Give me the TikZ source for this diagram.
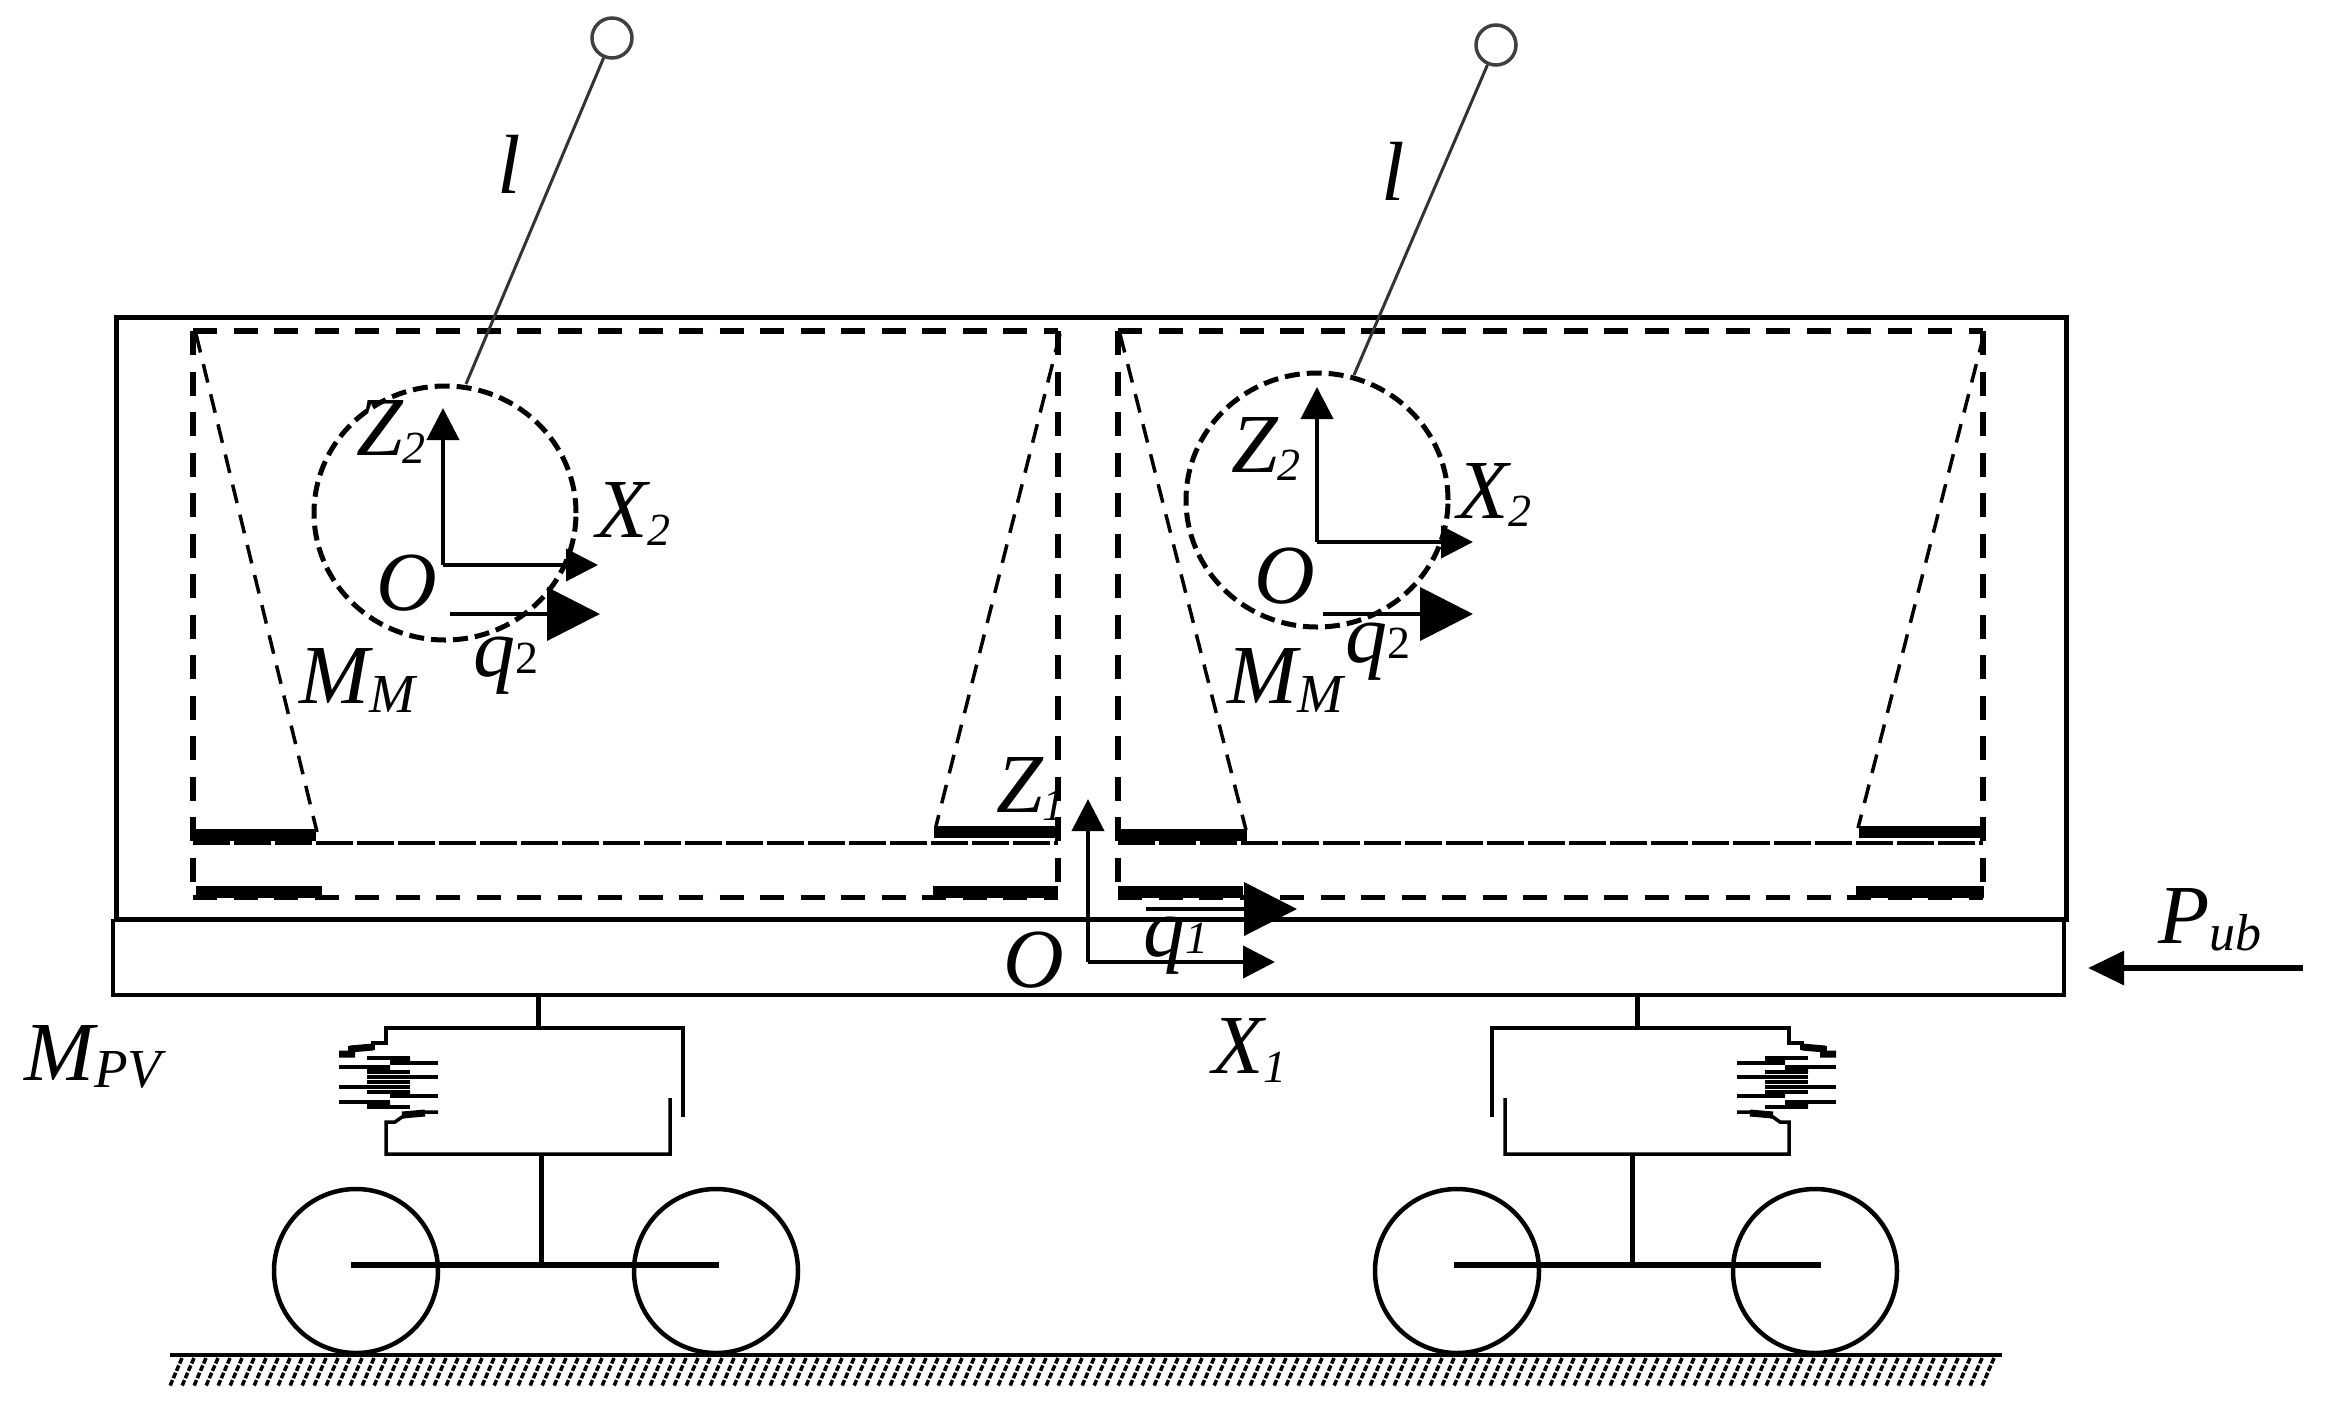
\documentclass[tikz,border=0pt]{standalone}
\usepackage{fontspec}
\setmainfont{Liberation Serif}
\usetikzlibrary{arrows.meta}
\newcommand\lowtxt[3]{\raisebox{-#1pt}{\fontsize{#2}{#2}\selectfont #3}}
\tikzset{
  x=1pt,y=-1pt,
  solidline/.style={line width=5pt,line cap=butt,line join=miter},
  railline/.style={line width=4pt,line join=miter},
  dashbox/.style={line width=6pt,dash pattern=on 24pt off 16.5pt},
  midline/.style={line width=4.5pt,dash pattern=on 37pt off 4pt},
  lowline/.style={line width=5pt,dash pattern=on 24pt off 16.5pt},
  diagline/.style={line width=3.5pt,dash pattern=on 19pt off 12pt},
  massring/.style={line width=5pt,dash pattern=on 15pt off 7pt},
  padbar/.style={line width=12pt},
  axisline/.style={line width=4pt,line join=round},
  stay/.style={line width=3pt,draw=black!80},
  pin/.style={circle,draw=black!75,line width=3.5pt,minimum size=40pt,inner sep=0pt,fill=white},
  wheelring/.style={circle,draw,line width=4.5pt,minimum size=164pt,inner sep=0pt},
  susp/.style={line width=3.5pt,line join=miter},
  fin/.style={line width=3.5pt},
  finblock/.style={line width=7pt},
  post/.style={line width=5pt},
  smallhead/.style={-{Triangle[length=32pt,width=32pt]}},
  largehead/.style={-{Triangle[length=53pt,width=53pt]}},
  lab/.style={anchor=base west,inner sep=0pt,font=\fontsize{84}{84}\selectfont\itshape},
  bogie/.pic={
    \draw[post] (538,995) -- (538,1028);
    \draw[susp] (683,1117) -- (683,1028) -- (386,1028) -- (386,1043) -- (373,1043) -- (373,1048) -- (350,1048) -- (350,1054) -- (339,1054);
    \draw[susp] (670,1098) -- (670,1154) -- (386,1154) -- (386,1122) -- (395,1122) -- (402,1117) -- (425,1112) -- (438,1112);
    \draw[fin] (367,1058) -- (410,1058) (390,1063) -- (438,1063) (339,1067) -- (390,1067)
      (367,1072) -- (410,1072) (367,1077) -- (410,1077) (410,1077) -- (438,1077)
      (367,1082) -- (410,1082) (339,1087) -- (410,1087) (367,1092) -- (410,1092)
      (390,1096) -- (438,1096) (339,1102) -- (390,1102) (367,1107) -- (410,1107);
    \draw[finblock] (350,1049) -- (373,1047) (339,1054) -- (355,1054) (390,1060) -- (410,1060)
      (367,1069) -- (390,1069) (390,1094) -- (410,1094) (367,1104) -- (390,1104) (402,1115) -- (425,1113);
  }
}
\begin{document}
\begin{tikzpicture}
\useasboundingbox (0,0) rectangle (2329,1414);
% car body and rail
\draw[solidline] (116,919) rectangle (2066,317);
\draw[railline] (113,919) -- (113,995) -- (2064,995) -- (2064,919);
% dashed frames
\draw[dashbox] (193,331) -- (1058,331);
\draw[dashbox] (1118,331) -- (1983,331);
\draw[dashbox] (193,331) -- (193,897);
\draw[dashbox] (1058,331) -- (1058,897);
\draw[dashbox] (1118,331) -- (1118,897);
\draw[dashbox] (1983,331) -- (1983,897);
\draw[midline] (193,843) -- (1058,843);
\draw[midline] (1118,843) -- (1983,843);
\draw[lowline] (193,897) -- (1058,897);
\draw[lowline] (1118,897) -- (1983,897);
\draw[diagline] (196,334) -- (317,832);
\draw[diagline] (1060,334) -- (936,826);
\draw[diagline] (1120,334) -- (1246,830);
\draw[diagline] (1984,334) -- (1858,828);
% pads
\draw[padbar] (193,835) -- (316,835);
\draw[padbar] (934,832) -- (1058,832);
\draw[padbar] (1118,835) -- (1247,835);
\draw[padbar] (1859,832) -- (1984,832);
\draw[padbar] (196,892) -- (322,892);
\draw[padbar] (933,892) -- (1058,892);
\draw[padbar] (1118,892) -- (1243,892);
\draw[padbar] (1856,892) -- (1984,892);
% masses and stays
\node[pin] (pinA) at (612,38) {};
\node[pin] (pinB) at (1496,45) {};
\coordinate (ringA) at (466,384);
\coordinate (ringB) at (1354,375);
\draw[stay] (ringA) -- (pinA);
\draw[stay] (ringB) -- (pinB);
\draw[massring] (445,513) ellipse [x radius=131pt,y radius=127pt];
\draw[massring] (1317,500) ellipse [x radius=131pt,y radius=127pt];
% local axes
\coordinate (oA) at (443,565);
\coordinate (zA) at (443,408);
\coordinate (xA) at (598,565);
\coordinate (oB) at (1317,542);
\coordinate (zB) at (1317,387);
\coordinate (xB) at (1473,542);
\draw[axisline,smallhead] (oA) -- (zA);
\draw[axisline,smallhead] (oA) -- (xA);
\draw[axisline,smallhead] (oB) -- (zB);
\draw[axisline,smallhead] (oB) -- (xB);
\coordinate (qAs) at (450,614);
\coordinate (qAe) at (600,614);
\coordinate (qBs) at (1323,614);
\coordinate (qBe) at (1473,614);
\draw[axisline,largehead] (qAs) -- (qAe);
\draw[axisline,largehead] (qBs) -- (qBe);
% main axes
\coordinate (oM) at (1088,962);
\coordinate (zM) at (1088,799);
\coordinate (xM) at (1275,962);
\draw[axisline,smallhead] (oM) -- (zM);
\draw[axisline,smallhead] (oM) -- (xM);
\coordinate (qMs) at (1146,909);
\coordinate (qMe) at (1297,909);
\draw[axisline,largehead] (qMs) -- (qMe);
\coordinate (pS) at (2303,968);
\coordinate (pE) at (2088,968);
\draw[line width=6pt,-{Triangle[length=36pt,width=33pt]}] (pS) -- (pE);
% suspensions
\pic at (0,0) {bogie};
\pic[xscale=-1] at (2175,0) {bogie};
% wheel sets
\node[wheelring] (wa) at (356,1271) {};
\node[wheelring] (wb) at (716,1271) {};
\node[wheelring] (wc) at (1457,1271) {};
\node[wheelring] (wd) at (1815,1271) {};
\draw[post] (541,1154) -- (541,1265);
\draw[post] (1632,1154) -- (1632,1265);
\draw[line width=5.5pt] (351,1265) -- (719,1265);
\draw[line width=5.5pt] (1454,1265) -- (1821,1265);
% ground
\draw[line width=4pt] (170,1355) -- (2002,1355);
\foreach \hx in {182,194,...,2002}
  \draw[line width=3.5pt,dash pattern=on 6pt off 2pt] (\hx,1358) -- (\hx-12,1386);
% labels
\node[lab] (lA) at (497,193) {l};
\node[lab] (lB) at (1381,200) {l};
\node[lab] (zlA) at (356,455) {Z\lowtxt{8}{46}{2}};
\node[lab] (xlA) at (596,537) {X\lowtxt{8}{46}{2}};
\node[lab] (olA) at (376,610) {O};
\node[lab] (qlA) at (473,676) {q\lowtxt{-3}{46}{\upshape 2}};
\node[lab] (mlA) at (299,703) {M\lowtxt{9}{55}{M}};
\node[lab] (zlB) at (1231,472) {Z\lowtxt{8}{46}{2}};
\node[lab] (xlB) at (1457,518) {X\lowtxt{8}{46}{2}};
\node[lab] (olB) at (1254,603) {O};
\node[lab] (qlB) at (1345,662) {q\lowtxt{-4}{46}{\upshape 2}};
\node[lab] (mlB) at (1227,703) {M\lowtxt{9}{55}{M}};
\node[lab] (zlM) at (996,812) {Z\lowtxt{8}{46}{1}};
\node[lab] (olM) at (1003,987) {O};
\node[lab] (qlM) at (1143,956) {q\lowtxt{-3}{46}{1}};
\node[lab] (xlM) at (1212,1073) {X\lowtxt{9}{46}{1}};
\node[lab] (mlP) at (24,1080) {M\lowtxt{7}{55}{PV}};
\node[lab] (plU) at (2158,943) {P\lowtxt{7}{52}{ub}};
\end{tikzpicture}
\end{document}
